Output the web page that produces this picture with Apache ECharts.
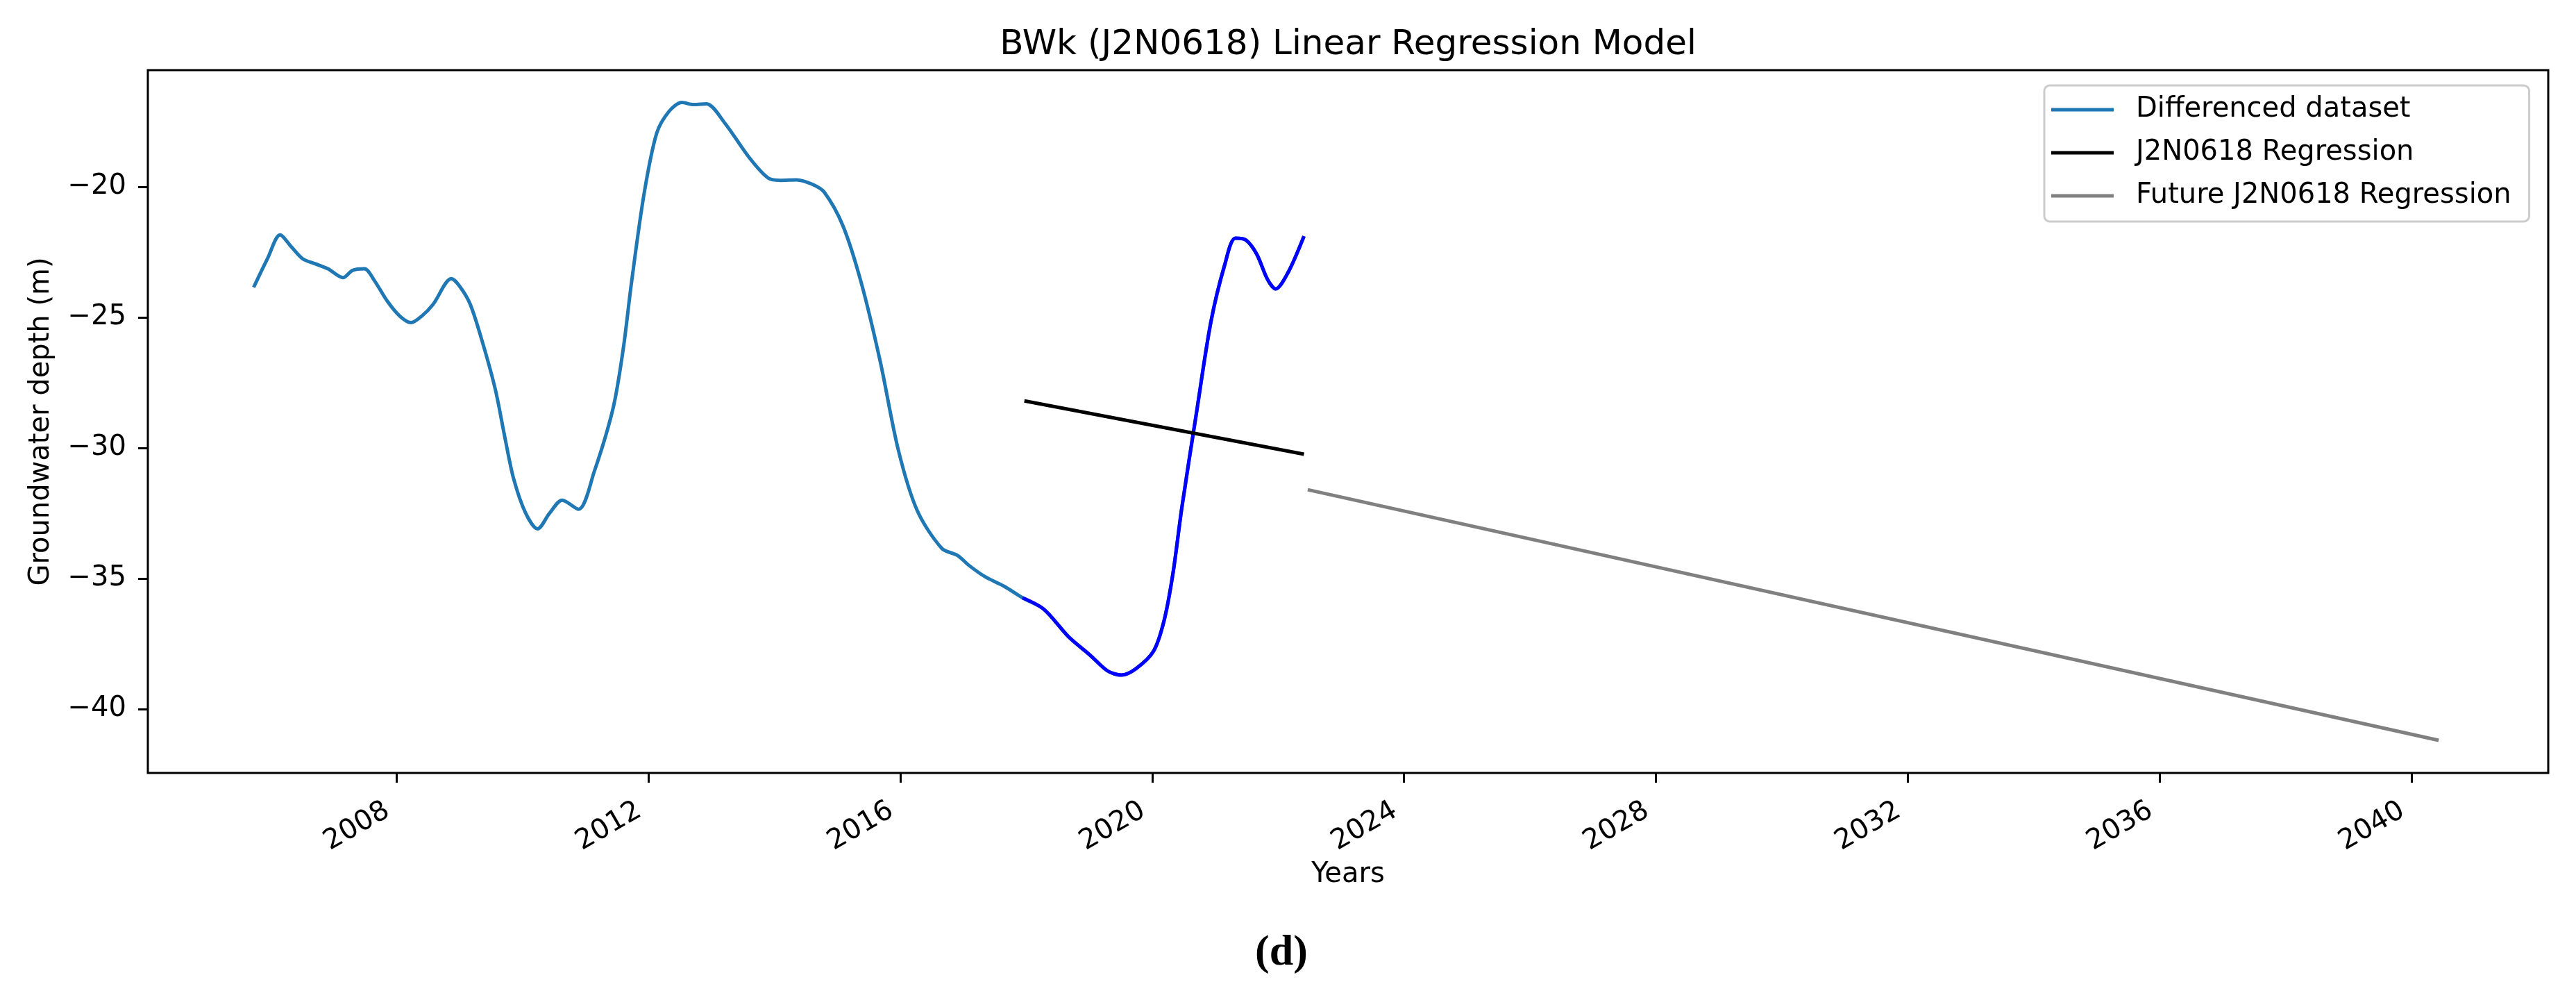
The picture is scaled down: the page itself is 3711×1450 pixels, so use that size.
<!DOCTYPE html>
<html>
<head>
<meta charset="utf-8">
<script src="https://cdn.jsdelivr.net/npm/echarts@6/dist/echarts.min.js"></script>
<style>
html,body{margin:0;padding:0;background:#fff;}
#chart{width:3711px;height:1450px;}
</style>
</head>
<body>
<div id="chart"></div>
<script>
// ---- data ----
const years = [2005.73,2005.95,2006.15,2006.33,2006.51,2006.71,2006.91,2007.15,2007.30,2007.49,2007.65,2007.85,2008.05,2008.23,2008.40,2008.58,2008.87,2009.00,2009.17,2009.37,2009.57,2009.72,2009.86,2010.05,2010.24,2010.43,2010.63,2010.89,2011.14,2011.44,2011.60,2011.73,2011.93,2012.13,2012.33,2012.53,2012.72,2012.92,2013.21,2013.61,2013.90,2014.10,2014.35,2014.60,2014.79,2015.09,2015.38,2015.68,2015.97,2016.27,2016.66,2016.91,2017.09,2017.35,2017.65,2017.94,2018.28,2018.67,2019.01,2019.29,2019.51,2019.74,2020.02,2020.19,2020.33,2020.47,2020.70,2020.93,2021.15,2021.32,2021.49,2021.66,2021.83,2021.96,2022.16,2022.41];
const depth = [-23.85,-22.75,-21.84,-22.30,-22.76,-22.95,-23.14,-23.48,-23.20,-23.14,-23.60,-24.37,-24.95,-25.20,-24.95,-24.50,-23.52,-23.80,-24.50,-26.00,-27.78,-29.60,-31.19,-32.50,-33.10,-32.50,-32.00,-32.35,-30.90,-28.46,-26.20,-23.68,-20.27,-17.95,-17.10,-16.77,-16.85,-16.82,-17.55,-18.91,-19.66,-19.75,-19.73,-19.90,-20.20,-21.50,-23.68,-26.68,-30.10,-32.41,-33.85,-34.12,-34.50,-34.94,-35.30,-35.74,-36.18,-37.23,-37.93,-38.54,-38.70,-38.46,-37.79,-36.60,-34.80,-32.30,-28.70,-25.20,-23.00,-21.97,-22.04,-22.58,-23.54,-23.91,-23.27,-21.89];
const fitStartYear = 2017.9;
const regYears = [2017.97, 2022.41];
const regDepth = [-28.20, -30.24];
const futureYears = [2022.47, 2040.43];
const futureDepth = [-31.60, -41.20];
const xTicks = [2008, 2012, 2016, 2020, 2024, 2028, 2032, 2036, 2040];
const yTicks = [-40, -35, -30, -25, -20];
const seriesNames = ['Differenced dataset', 'J2N0618 Regression', 'Future J2N0618 Regression'];

const pairs = (xs, ys) => xs.map((x, i) => [x, ys[i]]);
const mainData = pairs(years, depth);
const fitData = mainData.filter(p => p[0] >= fitStartYear);

const FONT = '"DejaVu Sans", sans-serif';
const chart = echarts.init(document.getElementById('chart'), null, {renderer: 'canvas'});
chart.setOption({
  animation: false,
  backgroundColor: '#ffffff',
  title: {
    text: 'BWk (J2N0618) Linear Regression Model',
    left: 1942, textAlign: 'center', top: 40, padding: 0,
    textStyle: {fontFamily: FONT, fontSize: 50, fontWeight: 'normal', color: '#000', lineHeight: 50}
  },
  legend: {
    data: seriesNames,
    orient: 'vertical',
    left: 2945, top: 123,
    padding: [15, 26, 17, 10],
    itemGap: 22,
    itemWidth: 90, itemHeight: 5,
    icon: 'rect',
    borderColor: '#cccccc', borderWidth: 3, borderRadius: 8,
    backgroundColor: 'rgba(255,255,255,0.8)',
    textStyle: {fontFamily: FONT, fontSize: 40, color: '#000', lineHeight: 40, padding: [0, 0, 0, 27]}
  },
  grid: {left: 213, top: 101, right: 40, bottom: 337, show: true, borderColor: '#000', borderWidth: 3, containLabel: false},
  xAxis: {
    type: 'value', min: 2004.05, max: 2042.17,
    name: 'Years', nameLocation: 'middle', nameGap: 126,
    nameTextStyle: {fontFamily: FONT, fontSize: 40, color: '#000'},
    axisLine: {show: false},
    splitLine: {show: false},
    axisTick: {show: true, length: 14, customValues: xTicks, lineStyle: {color: '#000', width: 3}},
    axisLabel: {customValues: xTicks, rotate: 30, margin: 44, fontFamily: FONT, fontSize: 40, color: '#000', padding: [0, 15, 0, 0], formatter: v => String(Math.round(v))}
  },
  yAxis: {
    type: 'value', min: -42.45, max: -15.53,
    name: 'Groundwater depth (m)', nameLocation: 'middle', nameGap: 133,
    nameTextStyle: {fontFamily: FONT, fontSize: 40, color: '#000'},
    axisLine: {show: false},
    splitLine: {show: false},
    axisTick: {show: true, length: 14, customValues: yTicks, lineStyle: {color: '#000', width: 3}},
    axisLabel: {customValues: yTicks, margin: 31, fontFamily: FONT, fontSize: 40, color: '#000', formatter: v => (v < 0 ? '\u2212' : '') + Math.abs(Math.round(v))}
  },
  series: [
    {name: seriesNames[0], type: 'line', data: mainData, showSymbol: false, symbol: 'none', smooth: 0.3, color: '#1f77b4', lineStyle: {width: 5, color: '#1f77b4'}, z: 2},
    {name: 'fit segment', type: 'line', data: fitData, showSymbol: false, symbol: 'none', smooth: 0.3, color: '#0000ff', lineStyle: {width: 5, color: '#0000ff'}, z: 3},
    {name: seriesNames[1], type: 'line', data: pairs(regYears, regDepth), showSymbol: false, symbol: 'none', color: '#000000', lineStyle: {width: 5, color: '#000000'}, z: 4},
    {name: seriesNames[2], type: 'line', data: pairs(futureYears, futureDepth), showSymbol: false, symbol: 'none', color: '#808080', lineStyle: {width: 5, color: '#808080'}, z: 4}
  ],
  graphic: [
    {type: 'text', left: 1853 - 45, top: 1342, style: {text: '(d)', font: 'bold 62px "Liberation Serif", serif', fill: '#000'}}
  ]
});
</script>
</body>
</html>
